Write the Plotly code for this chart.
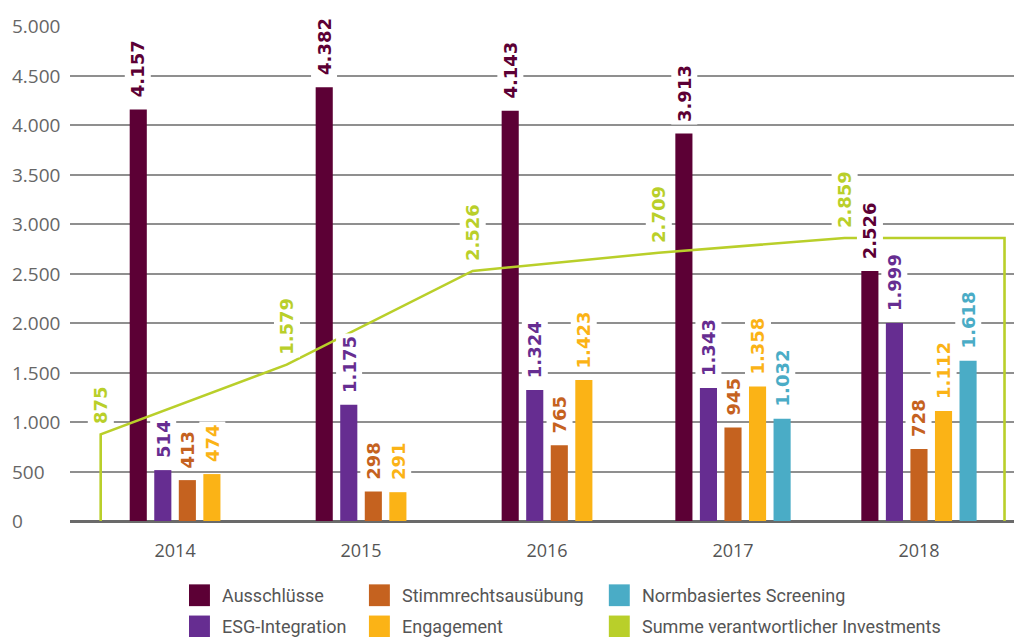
import plotly.graph_objects as go

# Werte (Mio. EUR) je Jahr
years = ["2014", "2015", "2016", "2017", "2018"]
ausschluesse = [4157, 4382, 4143, 3913, 2526]
esg_integration = [514, 1175, 1324, 1343, 1999]
stimmrecht = [413, 298, 765, 945, 728]
engagement = [474, 291, 1423, 1358, 1112]
screening = [None, None, None, 1032, 1618]
summe = [875, 1579, 2526, 2709, 2859]
y_ticks = [0, 500, 1000, 1500, 2000, 2500, 3000, 3500, 4000, 4500, 5000]

series = [
    ("Ausschlüsse", ausschluesse, "#5c0035"),
    ("ESG-Integration", esg_integration, "#662d91"),
    ("Stimmrechtsausübung", stimmrecht, "#c5621f"),
    ("Engagement", engagement, "#fbb316"),
    ("Normbasiertes Screening", screening, "#4aacc6"),
]
line_name = "Summe verantwortlicher Investments"
line_color = "#b9cf2a"


def de(v):
    return f"{v:,}".replace(",", ".")


bar_w = 0.092
pitch = 0.132
line_off = -0.40

fig = go.Figure()
annotations = []

# Balken je Jahr zentriert, fehlende Reihen lassen keine Lücke
xs = {name: [] for name, _, _ in series}
for i in range(len(years)):
    present = [s for s in series if s[1][i] is not None]
    n = len(present)
    for k, (name, vals, col) in enumerate(present):
        xs[name].append((i + (k - (n - 1) / 2) * pitch, vals[i]))

for name, vals, col in series:
    pts = xs[name]
    fig.add_trace(go.Bar(
        x=[p[0] for p in pts], y=[p[1] for p in pts], width=bar_w,
        marker=dict(color=col, line=dict(width=0)), name=name, showlegend=False,
    ))
    for x, v in pts:
        annotations.append(dict(
            x=x, y=v, xref="x", yref="y", text=de(v), textangle=-90,
            showarrow=False, xanchor="center", yanchor="bottom", yshift=9,
            bgcolor="white", borderpad=2,
            font=dict(family="DejaVu Sans", size=18, color=col, weight="bold"),
        ))

# Summenlinie mit Stufen an den Rändern
lx = [i + line_off for i in range(len(years))]
left = line_off
right = len(years) - 1 + 0.46
fig.add_trace(go.Scatter(
    x=[left] + lx + [right, right],
    y=[0] + summe + [summe[-1], 0],
    mode="lines", line=dict(color=line_color, width=2.6),
    name=line_name, showlegend=False,
))
for x, v in zip(lx, summe):
    annotations.append(dict(
        x=x, y=v, xref="x", yref="y", text=de(v), textangle=-90,
        showarrow=False, xanchor="center", yanchor="bottom", yshift=7,
        bgcolor="white", borderpad=2,
        font=dict(family="DejaVu Sans", size=18, color=line_color, weight="bold"),
    ))

# y-Achsenbeschriftung linksbündig
for t in y_ticks:
    annotations.append(dict(
        x=-0.063, y=t, xref="paper", yref="y", text=de(t), showarrow=False,
        xanchor="left", yanchor="middle",
        font=dict(family="Open Sans", size=19, color="#666666"),
    ))

# Legende von Hand (3 Spalten, 2 Zeilen)
legend_items = [series[0], series[1], series[2], series[3], series[4],
                (line_name, summe, line_color)]
col_sw = [0.125, 0.314, 0.566]
col_tx = [0.158, 0.347, 0.599]
row_y = [-0.150, -0.213]
shapes = []
for j, (name, _, col) in enumerate(legend_items):
    c, r = j // 2, j % 2
    shapes.append(dict(
        type="rect", xref="paper", yref="paper",
        x0=col_sw[c], x1=col_sw[c] + 0.022,
        y0=row_y[r] - 0.022, y1=row_y[r] + 0.022,
        fillcolor=col, line=dict(width=0),
    ))
    annotations.append(dict(
        x=col_tx[c], y=row_y[r], xref="paper", yref="paper", text=name,
        showarrow=False, xanchor="left", yanchor="middle",
        font=dict(family="Roboto", size=18, color="#555555"),
    ))

fig.update_layout(
    width=1014, height=629,
    margin=dict(l=62, r=0, t=18, b=116),
    plot_bgcolor="white", paper_bgcolor="white",
    barmode="overlay", showlegend=False,
    annotations=annotations, shapes=shapes,
    xaxis=dict(
        range=[-0.565, 4.554], tickvals=list(range(len(years))), ticktext=years,
        showgrid=False, zeroline=False, showline=False, ticks="",
        tickfont=dict(family="Open Sans", size=18, color="#555555"),
        ticklabelstandoff=17,
    ),
    yaxis=dict(
        range=[0, 5000], tickvals=y_ticks, showticklabels=False,
        showgrid=True, gridcolor="#8f8f8f", gridwidth=1.5,
        zeroline=True, zerolinecolor="#6a6a6a", zerolinewidth=2.5,
    ),
)

fig.write_html("out.html")
